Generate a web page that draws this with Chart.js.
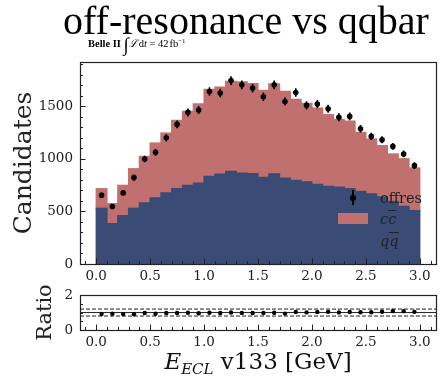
<!DOCTYPE html>
<html>
<head>
<meta charset="utf-8">
<script src="https://cdn.jsdelivr.net/npm/chart.js@4/dist/chart.umd.min.js"></script>
<style>
  body { margin: 0; background: #fff; }
  #wrap { position: relative; width: 443px; height: 380px; overflow: hidden; font-family: 'DejaVu Serif', serif; color: #111; }
  canvas { position: absolute; left: 0; }
  #main { top: 0; }
  #ratio { top: 280px; }
  .abs { position: absolute; white-space: nowrap; }
  #title { left: 63px; top: 1px; font-family: 'Liberation Serif', serif; font-size: 40px; line-height: 40px; color: #000; }
  #belle { left: 88px; top: 38px; font-family: 'Liberation Serif', serif; font-size: 10.5px; line-height: 12px; color: #000; }
  #belle .int { font-size: 19px; vertical-align: -4px; }
  #belle sup { font-size: 7px; vertical-align: 4px; line-height: 0; }
  #xlabel { left: 0; width: 516px; top: 347px; text-align: center; font-size: 23px; line-height: 28px; }
  #xlabel sub { font-size: 15px; font-style: italic; line-height: 0; vertical-align: -5px; }
  .leg { font-size: 14.5px; line-height: 16px; color: #222; }
  .ov { text-decoration: overline; }
</style>
</head>
<body>
<div id="wrap">
  <canvas id="main" width="443" height="290"></canvas>
  <canvas id="ratio" width="443" height="70"></canvas>

  <div id="title" class="abs">off-resonance vs qqbar</div>
  <div id="belle" class="abs"><b>Belle II</b> <span class="int">&#8747;</span><i>&#8466;</i>&#8202;d<i>t</i> = 42&#8202;fb<sup>&minus;1</sup></div>

  <!-- legend -->
  <div class="abs" style="left:352px; top:190px; width:2px; height:15px; background:#000;"></div>
  <div class="abs" style="left:350px; top:195px; width:6px; height:6px; border-radius:3px; background:#000;"></div>
  <div class="abs leg" style="left:380px; top:190px;">offres</div>
  <div class="abs" style="left:338px; top:213px; width:30px; height:11px; background:#c0716f;"></div>
  <div class="abs leg" style="left:380px; top:211px;"><i>c<span class="ov">c</span></i></div>
  <div class="abs" style="left:338px; top:236px; width:30px; height:11px; background:#3a4b75;"></div>
  <div class="abs leg" style="left:380px; top:233px;"><i>q<span class="ov">q</span></i></div>

  <div id="xlabel" class="abs"><i>E</i><sub>ECL</sub> v133 [GeV]</div>
</div>

<script>
// bin centres, 0.1 GeV wide
var binCenters = [0.05, 0.15, 0.25, 0.35, 0.45, 0.55, 0.65, 0.75, 0.85, 0.95,
                  1.05, 1.15, 1.25, 1.35, 1.45, 1.55, 1.65, 1.75, 1.85, 1.95,
                  2.05, 2.15, 2.25, 2.35, 2.45, 2.55, 2.65, 2.75, 2.85, 2.95];

var qqbar = [530, 384, 460, 530, 581, 628, 676, 716, 748, 770,
             833, 854, 881, 864, 860, 823, 856, 816, 794, 780,
             757, 738, 732, 716, 691, 666, 638, 596, 548, 508];

var ccbar = [186, 190, 288, 376, 442, 522, 569, 649, 702, 752,
             827, 828, 856, 868, 855, 827, 856, 824, 771, 747,
             725, 681, 643, 642, 560, 522, 487, 450, 453, 405];

var offres = [653, 546, 676, 821, 998, 1061, 1200, 1327, 1441, 1463,
              1640, 1625, 1743, 1703, 1672, 1590, 1703, 1545, 1630, 1508,
              1520, 1475, 1395, 1403, 1286, 1213, 1181, 1118, 1046, 935];

var offresErr = [26, 23, 26, 29, 32, 33, 35, 36, 38, 38,
                 40, 40, 42, 41, 41, 40, 41, 39, 40, 39,
                 39, 38, 37, 37, 36, 35, 34, 33, 32, 31];

var ratio = [0.92, 0.93, 0.91, 0.90, 0.97, 0.93, 0.97, 0.97, 0.99, 0.96,
             0.99, 0.97, 1.00, 0.98, 0.97, 0.97, 0.99, 0.94, 1.03, 1.01,
             1.03, 1.04, 1.01, 1.03, 1.02, 1.02, 1.05, 1.09, 1.08, 1.04];

var ratioLines = [1.0, 0.8, 1.2];

var xTicks = [0, 0.5, 1, 1.5, 2, 2.5, 3];
var yTicks = [0, 500, 1000, 1500];
var ratioTicks = [0, 2];

var X_MIN = -0.15, X_MAX = 3.15;
var BLUE = '#3a4b75', PINK = '#c0716f';
var FONT = 'DejaVu Serif';

function pts(ys) {
  return binCenters.map(function(x, i) { return { x: x, y: ys[i] }; });
}

function range(a, b, step) {
  var out = [];
  for (var v = a; v <= b + 1e-9; v += step) out.push(Math.round(v * 1000) / 1000);
  return out;
}

// frame around the plot area plus inward pointing ticks
var frameTicks = {
  id: 'frameTicks',
  afterDraw: function(chart, args, o) {
    var ctx = chart.ctx, a = chart.chartArea;
    var xs = chart.scales.x, ys = chart.scales.y;
    ctx.save();
    ctx.strokeStyle = '#222';
    ctx.lineWidth = 1;
    ctx.beginPath();
    o.xMinor.forEach(function(v) {
      var px = Math.round(xs.getPixelForValue(v)) + 0.5;
      if (px < a.left || px > a.right) return;
      ctx.moveTo(px, a.bottom); ctx.lineTo(px, a.bottom - 3);
    });
    o.xMajor.forEach(function(v) {
      var px = Math.round(xs.getPixelForValue(v)) + 0.5;
      ctx.moveTo(px, a.bottom); ctx.lineTo(px, a.bottom - 5.5);
    });
    o.yMinor.forEach(function(v) {
      var py = Math.round(ys.getPixelForValue(v)) + 0.5;
      if (py < a.top || py > a.bottom) return;
      ctx.moveTo(a.left, py); ctx.lineTo(a.left + 3, py);
    });
    o.yMajor.forEach(function(v) {
      var py = Math.round(ys.getPixelForValue(v)) + 0.5;
      ctx.moveTo(a.left, py); ctx.lineTo(a.left + 5.5, py);
    });
    ctx.stroke();
    ctx.lineWidth = 1.2;
    ctx.strokeRect(Math.round(a.left) + 0.5, Math.round(a.top) + 0.5,
                   Math.round(a.right - a.left), Math.round(a.bottom - a.top));
    ctx.restore();
  }
};

// vertical error bars on the offres points
var errorBars = {
  id: 'errorBars',
  afterDatasetsDraw: function(chart, args, o) {
    if (!o.errors) return;
    var ctx = chart.ctx, ys = chart.scales.y;
    var meta = chart.getDatasetMeta(o.dataset);
    ctx.save();
    ctx.strokeStyle = '#000';
    ctx.lineWidth = 1.6;
    ctx.beginPath();
    meta.data.forEach(function(p, i) {
      var v = offres[i];
      ctx.moveTo(p.x, ys.getPixelForValue(v - o.errors[i]));
      ctx.lineTo(p.x, ys.getPixelForValue(v + o.errors[i]));
    });
    ctx.stroke();
    ctx.restore();
  }
};

function xAxis() {
  return {
    type: 'linear',
    min: X_MIN, max: X_MAX,
    offset: false,
    afterBuildTicks: function(s) { s.ticks = xTicks.map(function(v) { return { value: v }; }); },
    afterFit: function(s) { s.height = s.chart.height - (s.chart.canvas.id == 'main' ? 264 : 50); },
    grid: { display: false, drawTicks: false, offset: false },
    border: { display: false },
    ticks: {
      padding: 4, color: '#222', maxRotation: 0,
      font: { family: FONT, size: 13.5 },
      callback: function(v) { return v.toFixed(1); }
    }
  };
}

function yTickLabel(v) { return String(v); }

var mainChart = new Chart(document.getElementById('main'), {
  type: 'bar',
  data: {
    datasets: [
      {
        type: 'line', label: 'offres', data: pts(offres), stack: 'data', order: 0,
        showLine: false, pointRadius: 2.8, pointBackgroundColor: '#000', pointBorderWidth: 0
      },
      {
        label: 'qqbar', data: pts(qqbar), stack: 'mc', order: 1,
        backgroundColor: BLUE, borderWidth: 0, inflateAmount: 0.6,
        barPercentage: 1, categoryPercentage: 1
      },
      {
        label: 'ccbar', data: pts(ccbar), stack: 'mc', order: 2,
        backgroundColor: PINK, borderWidth: 0, inflateAmount: 0.6,
        barPercentage: 1, categoryPercentage: 1
      }
    ]
  },
  options: {
    responsive: false,
    animation: false,
    layout: { padding: { top: 62, right: 7, left: 0, bottom: 0 } },
    plugins: {
      legend: { display: false },
      tooltip: { enabled: false },
      frameTicks: { xMajor: xTicks, xMinor: range(-0.1, 3.1, 0.1), yMajor: yTicks, yMinor: range(0, 1900, 100) },
      errorBars: { dataset: 0, errors: offresErr }
    },
    scales: {
      x: Object.assign(xAxis(), { stacked: true }),
      y: {
        stacked: true,
        min: 0, max: 1920,
        afterBuildTicks: function(s) { s.ticks = yTicks.map(function(v) { return { value: v }; }); },
        afterFit: function(s) { s.width = 80; },
        grid: { display: false, drawTicks: false },
        border: { display: false },
        ticks: { padding: 7, color: '#222', font: { family: FONT, size: 13.5 }, callback: yTickLabel },
        title: {
          display: true, text: 'Candidates', color: '#222',
          font: { family: FONT, size: 25 }, padding: { top: 9, bottom: 0 }
        }
      }
    }
  },
  plugins: [frameTicks, errorBars]
});

var lineSets = ratioLines.map(function(v, i) {
  return {
    data: [{ x: X_MIN, y: v }, { x: X_MAX, y: v }],
    borderColor: '#222', borderWidth: 1, pointRadius: 0,
    borderDash: i == 0 ? [] : [4, 2]
  };
});

var ratioChart = new Chart(document.getElementById('ratio'), {
  type: 'line',
  data: {
    datasets: [{
      data: pts(ratio), showLine: false,
      pointRadius: 2.2, pointBackgroundColor: '#000', pointBorderWidth: 0
    }].concat(lineSets)
  },
  options: {
    responsive: false,
    animation: false,
    layout: { padding: { top: 8, right: 7, left: 0, bottom: 0 } },
    plugins: {
      legend: { display: false },
      tooltip: { enabled: false },
      frameTicks: { xMajor: xTicks, xMinor: range(-0.1, 3.1, 0.1), yMajor: ratioTicks, yMinor: [0.5, 1, 1.5] }
    },
    scales: {
      x: xAxis(),
      y: {
        min: 0, max: 2,
        afterBuildTicks: function(s) { s.ticks = ratioTicks.map(function(v) { return { value: v }; }); },
        afterFit: function(s) { s.width = 80; },
        grid: { display: false, drawTicks: false },
        border: { display: false },
        ticks: { padding: 7, color: '#222', font: { family: FONT, size: 13.5 }, callback: yTickLabel },
        title: {
          display: true, text: 'Ratio', color: '#222',
          font: { family: FONT, size: 21 }, padding: { top: 33, bottom: 0 }
        }
      }
    }
  },
  plugins: [frameTicks]
});
</script>
</body>
</html>
